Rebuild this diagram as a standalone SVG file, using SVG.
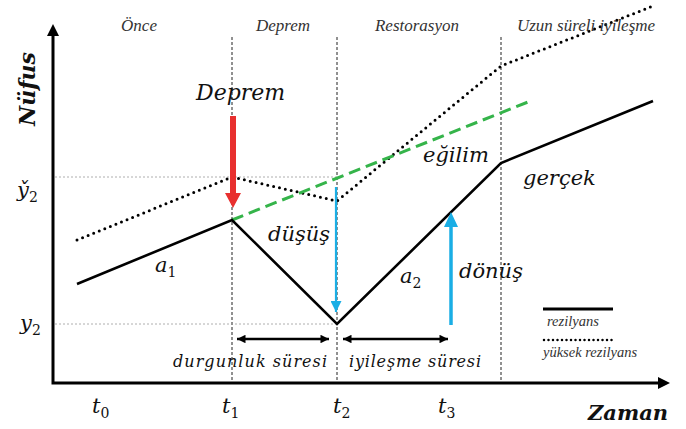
<svg xmlns="http://www.w3.org/2000/svg" width="686" height="429" viewBox="0 0 686 429">
<defs>
<style>
.m{font-family:"DejaVu Serif","Liberation Serif",serif;font-style:italic;font-size:21px;fill:#111}
.sub{font-family:"DejaVu Serif","Liberation Serif",serif;font-style:normal;font-size:14px}
.hd{font-family:"Liberation Serif","DejaVu Serif",serif;font-style:italic;font-size:17px;fill:#333}
.lg{font-family:"Liberation Serif","DejaVu Serif",serif;font-style:italic;font-size:14.5px;fill:#333}
.bx{font-family:"DejaVu Serif","Liberation Serif",serif;font-style:italic;font-weight:bold;font-size:21px;fill:#111}
.vd{stroke:#222;stroke-width:1;stroke-dasharray:3 2;fill:none}
.hg{stroke:#999;stroke-width:0.8;stroke-dasharray:2 2;fill:none}
.sol{stroke:#000;stroke-width:2.6;fill:none;stroke-linejoin:miter}
.dot{stroke:#000;stroke-width:3;fill:none;stroke-dasharray:0 6;stroke-linecap:round}
.grn{stroke:#35b44a;stroke-width:3;fill:none;stroke-dasharray:12 6}
.dbl{stroke:#000;stroke-width:2.5;fill:none}
</style>
<marker id="ah" viewBox="0 0 10 10" refX="10" refY="5" markerWidth="4" markerHeight="3.4" orient="auto-start-reverse" markerUnits="strokeWidth">
<path d="M0,0 L10,5 L0,10 z" fill="#000"/>
</marker>
<marker id="bh" viewBox="0 0 10 10" refX="10" refY="5" markerWidth="6" markerHeight="5" orient="auto" markerUnits="strokeWidth">
<path d="M0,0 L10,5 L0,10 z" fill="#1aaee5"/>
</marker>
</defs>
<rect width="686" height="429" fill="#fff"/>

<g id="guides">
<line class="vd" x1="232" y1="37" x2="232" y2="383"/>
<line class="vd" x1="337" y1="37" x2="337" y2="383"/>
<line class="vd" x1="501" y1="37" x2="501" y2="383"/>
<line class="hg" x1="55" y1="177" x2="338" y2="177"/>
<line class="hg" x1="55" y1="324" x2="338" y2="324"/>
</g>

<g id="axes">
<polyline points="53,34 53,383 660,383" fill="none" stroke="#000" stroke-width="3"/>
<path d="M47,36 L53,24 L59,36 z" fill="#000"/>
<path d="M658,377 L670,383 L658,389 z" fill="#000"/>
</g>

<g id="curves">
<polyline class="dot" points="77,240 232,177 337,201 501,66 653,6"/>
<line class="grn" x1="232" y1="220" x2="528" y2="102"/>
<polyline class="sol" points="77,284 232,220 337,324 501,163 653,101"/>
</g>

<g id="connectors">
<path d="M230,116 L236,116 L236,193 L241,193 L233,208 L225,193 L230,193 z" fill="#e8302f"/>
<line x1="336" y1="187" x2="336" y2="312" stroke="#1aaee5" stroke-width="2.2" marker-end="url(#bh)"/>
<line x1="451" y1="325" x2="451" y2="226" stroke="#1aaee5" stroke-width="3.5"/>
<path d="M444,227 L451,212 L458,227 z" fill="#1aaee5"/>
<line class="dbl" x1="237" y1="339" x2="329" y2="339" marker-start="url(#ah)" marker-end="url(#ah)"/>
<line class="dbl" x1="343" y1="339" x2="448" y2="339" marker-start="url(#ah)" marker-end="url(#ah)"/>
</g>

<g id="headers">
<text class="hd" x="139" y="31" text-anchor="middle">Önce</text>
<text class="hd" x="283" y="31" text-anchor="middle">Deprem</text>
<text class="hd" x="417" y="31" text-anchor="middle">Restorasyon</text>
<text class="hd" x="586" y="31" text-anchor="middle">Uzun süreli iyileşme</text>
</g>

<g id="labels">
<text class="m" x="196" y="100" style="font-size:22px">Deprem</text>
<text class="bx" transform="translate(35,89) rotate(-90)" text-anchor="middle" style="font-size:22px">Nüfus</text>
<text class="m" x="17" y="197">y̌<tspan class="sub" dy="5">2</tspan></text>
<text class="m" x="20" y="330">y<tspan class="sub" dy="5">2</tspan></text>
<text class="m" x="155" y="272">a<tspan class="sub" dy="5">1</tspan></text>
<text class="m" x="268" y="241">düşüş</text>
<text class="m" x="400" y="283">a<tspan class="sub" dy="5">2</tspan></text>
<text class="m" x="459" y="278">dönüş</text>
<text class="m" x="423" y="162">eğilim</text>
<text class="m" x="523" y="185">gerçek</text>
<text class="m" x="173" y="367" style="font-size:16px" textLength="154">durgunluk süresi</text>
<text class="m" x="349" y="367" style="font-size:16px" textLength="132">iyileşme süresi</text>
<text class="m" x="92" y="413">t<tspan class="sub" dy="5">0</tspan></text>
<text class="m" x="222" y="413">t<tspan class="sub" dy="5">1</tspan></text>
<text class="m" x="333" y="413">t<tspan class="sub" dy="5">2</tspan></text>
<text class="m" x="438" y="413">t<tspan class="sub" dy="5">3</tspan></text>
<text class="bx" x="588" y="420">Zaman</text>
</g>

<g id="legend">
<line x1="543" y1="309" x2="613" y2="309" stroke="#000" stroke-width="3"/>
<text class="lg" x="547" y="326">rezilyans</text>
<line x1="544" y1="340" x2="612" y2="340" stroke="#000" stroke-width="2.5" stroke-dasharray="0 4.5" stroke-linecap="round"/>
<text class="lg" x="543" y="357">yüksek rezilyans</text>
</g>
</svg>
